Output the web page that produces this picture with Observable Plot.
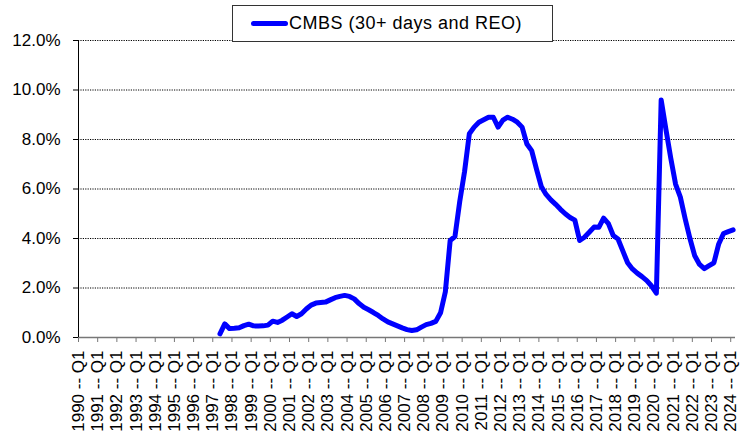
<!DOCTYPE html>
<html>
<head>
<meta charset="utf-8">
<script src="https://cdn.jsdelivr.net/npm/d3@7"></script>
<script src="https://cdn.jsdelivr.net/npm/@observablehq/plot@0.6"></script>
<style>
  html, body { margin: 0; padding: 0; background: #fff; }
  #wrap { position: relative; width: 743px; height: 435px; font-family: "Liberation Sans", Arial, sans-serif; }
  #legend { position: absolute; left: 232px; top: 5px; width: 319px; height: 35px; border: 1px solid #333; background: #fff; z-index: 2; }
  #legend .sw { position: absolute; left: 18px; top: 15px; width: 37px; height: 5px; border-radius: 3px; background: #0000ff; }
  #legend .tx { position: absolute; left: 56px; top: 7px; font-size: 18px; letter-spacing: 0.5px; color: #000; white-space: nowrap; }
</style>
</head>
<body>
<div id="wrap">
  <div id="legend"><span class="sw"></span><span class="tx" id="legendText"></span></div>
</div>
<script>
// ---- data ----
const seriesName = "CMBS (30+ days and REO)";
const firstYear = 1990;
const lastYear = 2024;
const quarterNames = ["Q1", "Q2", "Q3", "Q4"];
const startCategory = "1997 -- Q2";
// delinquency rate (%), quarterly from 1997 Q2 to 2024 Q1
const values = [
  0.15, 0.55, 0.36,
  0.37, 0.39, 0.48, 0.54,
  0.47, 0.46, 0.47, 0.50,
  0.66, 0.61, 0.70, 0.83,
  0.96, 0.85, 0.96, 1.15,
  1.31, 1.39, 1.41, 1.43,
  1.52, 1.61, 1.66, 1.70,
  1.66, 1.56, 1.37, 1.22,
  1.12, 1.01, 0.89, 0.75,
  0.63, 0.55, 0.47, 0.39,
  0.32, 0.28, 0.31, 0.42,
  0.52, 0.57, 0.65, 1.00,
  1.85, 3.92, 4.08, 5.50,
  6.70, 8.23, 8.50, 8.70,
  8.80, 8.90, 8.90, 8.50,
  8.78, 8.90, 8.82, 8.70,
  8.50, 7.82, 7.55, 6.80,
  6.10, 5.78, 5.56, 5.38,
  5.18, 5.00, 4.85, 4.74,
  3.92, 4.05, 4.25, 4.46,
  4.45, 4.82, 4.60, 4.12,
  3.98, 3.50, 3.02, 2.77,
  2.60, 2.46, 2.30, 2.08,
  1.79, 9.60, 8.40, 7.25,
  6.20, 5.67, 4.80, 4.00,
  3.30, 2.95, 2.78, 2.90,
  3.02, 3.78, 4.20, 4.28,
  4.35
];
const yTicks = [0, 2, 4, 6, 8, 10, 12];

// ---- build category list (1990 Q1 .. 2024 Q1) ----
const categories = [];
for (let y = firstYear; y <= lastYear; y++) {
  for (const q of quarterNames) {
    categories.push(`${y} -- ${q}`);
    if (y === lastYear) break;
  }
}
const startIndex = categories.indexOf(startCategory);
const series = values.map((v, k) => ({cat: categories[startIndex + k], pos: startIndex + k + 0.5, value: v}));
const yearTickIdx = categories.map((c, i) => i).filter(i => categories[i].endsWith("Q1"));

document.getElementById("legendText").textContent = seriesName;

const chart = Plot.plot({
  width: 743,
  height: 435,
  marginLeft: 78,
  marginRight: 8,
  marginTop: 40,
  marginBottom: 98,
  style: {fontFamily: "'Liberation Sans', Arial, sans-serif", fontSize: "17px", color: "#000", background: "#fff", overflow: "visible"},
  x: {type: "linear", domain: [0, categories.length], axis: null, label: null},
  y: {domain: [0, 12], axis: null, label: null},
  marks: [
    Plot.gridY(yTicks.filter(d => d > 0), {stroke: "#000", strokeOpacity: 1, strokeWidth: 1, strokeDasharray: "1.2,1.2"}),
    Plot.axisY({ticks: yTicks, label: null, tickSize: 5, tickPadding: 13, tickFormat: d => d.toFixed(1) + "%", fontSize: 17, stroke: "#000"}),
    Plot.axisX({ticks: yearTickIdx, label: null, tickSize: 5, tickPadding: 8, tickRotate: -90, tickFormat: i => categories[i], fontSize: 17, stroke: "#777"}),
    Plot.ruleY([0], {stroke: "#777", strokeWidth: 1.5}),
    Plot.ruleX([0], {stroke: "#000", strokeWidth: 1}),
    Plot.line(series, {x: "pos", y: "value", stroke: "#0000ff", strokeWidth: 5, strokeLinejoin: "round", strokeLinecap: "round"})
  ]
});
document.getElementById("wrap").appendChild(chart);
</script>
</body>
</html>
